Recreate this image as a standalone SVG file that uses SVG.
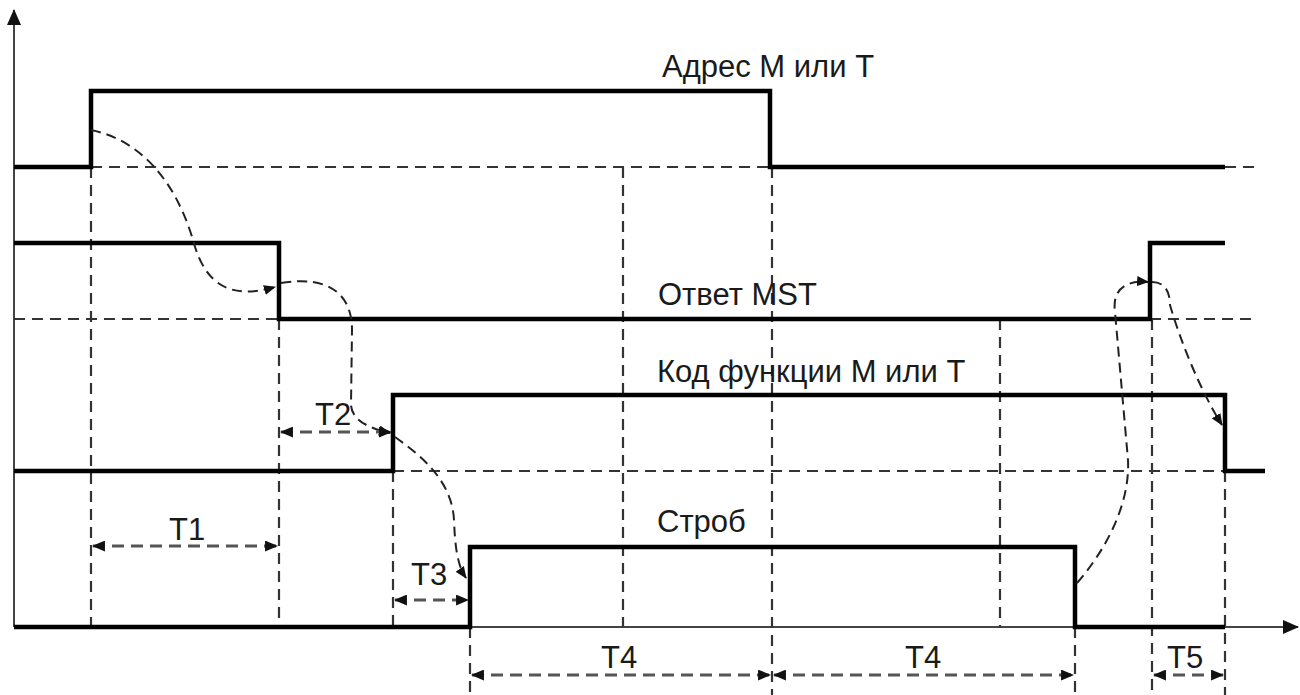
<svg xmlns="http://www.w3.org/2000/svg" width="1300" height="695" viewBox="0 0 1300 695">
<defs>
<marker id="ah" viewBox="0 0 12 10" refX="11" refY="5" markerWidth="13" markerHeight="11" markerUnits="userSpaceOnUse" orient="auto-start-reverse">
<path d="M0,0 L12,5 L0,10 Z" fill="#111"/>
</marker>
<marker id="ax" viewBox="0 0 16 14" refX="15" refY="7" markerWidth="16" markerHeight="14" markerUnits="userSpaceOnUse" orient="auto">
<path d="M0,0 L16,7 L0,14 Z" fill="#111"/>
</marker>
<marker id="ch" viewBox="0 0 12 10" refX="11" refY="5" markerWidth="12" markerHeight="10" markerUnits="userSpaceOnUse" orient="auto">
<path d="M0,0 L12,5 L0,10 Z" fill="#111"/>
</marker>
</defs>
<style>
.sig{fill:none;stroke:#000;stroke-width:4.5;stroke-linejoin:miter}
.axis{fill:none;stroke:#444;stroke-width:2}
.dash{fill:none;stroke:#333;stroke-width:2.2;stroke-dasharray:11 7}
.curve{fill:none;stroke:#222;stroke-width:2;stroke-dasharray:10 6}
.dim{fill:none;stroke:#555;stroke-width:3;stroke-dasharray:12 7}
.lbl{font-family:"Liberation Sans",Arial,sans-serif;font-size:31px;fill:#1a1a1a}
</style>
<rect width="1300" height="695" fill="#fff"/>

<g id="axes">
<line class="axis" x1="14" y1="627" x2="14" y2="10" marker-end="url(#ax)"/>
<line class="axis" x1="14" y1="627" x2="1298" y2="627" marker-end="url(#ax)"/>
</g>

<g id="guides">
<line class="dash" x1="91" y1="167" x2="1255" y2="167"/>
<line class="dash" x1="14" y1="319" x2="279" y2="319"/>
<line class="dash" x1="1150" y1="319" x2="1255" y2="319"/>
<line class="dash" x1="393" y1="471" x2="1225" y2="471"/>
<line class="dash" x1="91" y1="167" x2="91" y2="627"/>
<line class="dash" x1="279" y1="319" x2="279" y2="627"/>
<line class="dash" x1="393" y1="471" x2="393" y2="627"/>
<line class="dash" x1="470" y1="627" x2="470" y2="695"/>
<line class="dash" x1="623" y1="167" x2="623" y2="627"/>
<line class="dash" x1="772" y1="167" x2="772" y2="695"/>
<line class="dash" x1="1000" y1="319" x2="1000" y2="627"/>
<line class="dash" x1="1075" y1="627" x2="1075" y2="695"/>
<line class="dash" x1="1152" y1="319" x2="1152" y2="695"/>
<line class="dash" x1="1225" y1="471" x2="1225" y2="695"/>
</g>

<g id="sig-address">
<path class="sig" d="M14,167 H91 V91 H770 V167 H1225"/>
<text class="lbl" x="662" y="77">Адрес M или T</text>
</g>
<g id="sig-answer">
<path class="sig" d="M14,243 H279 V319 H1150 V243 H1225"/>
<text class="lbl" x="658" y="305">Ответ MST</text>
</g>
<g id="sig-function">
<path class="sig" d="M14,471 H393 V395 H1225 V471 H1265"/>
<text class="lbl" x="657" y="382">Код функции M или T</text>
</g>
<g id="sig-strobe">
<path class="sig" d="M14,627 H470 V547 H1075 V627 H1225"/>
<text class="lbl" x="657" y="532">Строб</text>
</g>

<g id="connectors">
<path class="curve" d="M91,130 C140,140 175,180 193,240 C205,285 230,300 275,287" marker-end="url(#ch)"/>
<path class="curve" d="M281,283 C330,275 352,295 352,330 L351,405 C352,420 368,428 390,433" marker-end="url(#ch)"/>
<path class="curve" d="M395,437 C420,455 452,480 454,520 C455,545 457,565 466,578" marker-end="url(#ch)"/>
<path class="curve" d="M1077,583 C1110,545 1130,500 1128,460 L1115,312 C1112,290 1125,280 1148,282" marker-end="url(#ch)"/>
<path class="curve" d="M1152,282 C1165,282 1170,292 1170,305 C1180,340 1200,390 1222,425" marker-end="url(#ch)"/>
</g>

<g id="dimensions">
<line class="dim" x1="93" y1="546" x2="277" y2="546" marker-start="url(#ah)" marker-end="url(#ah)"/>
<text class="lbl" x="169" y="540">T1</text>
<line class="dim" x1="281" y1="432" x2="391" y2="432" marker-start="url(#ah)" marker-end="url(#ah)"/>
<text class="lbl" x="315" y="425">T2</text>
<line class="dim" x1="395" y1="600" x2="468" y2="600" marker-start="url(#ah)" marker-end="url(#ah)"/>
<text class="lbl" x="411" y="585">T3</text>
<line class="dim" x1="472" y1="675" x2="770" y2="675" marker-start="url(#ah)" marker-end="url(#ah)"/>
<text class="lbl" x="601" y="668">T4</text>
<line class="dim" x1="774" y1="675" x2="1073" y2="675" marker-start="url(#ah)" marker-end="url(#ah)"/>
<text class="lbl" x="905" y="668">T4</text>
<line class="dim" x1="1154" y1="675" x2="1223" y2="675" marker-start="url(#ah)" marker-end="url(#ah)"/>
<text class="lbl" x="1167" y="668">T5</text>
</g>
</svg>
